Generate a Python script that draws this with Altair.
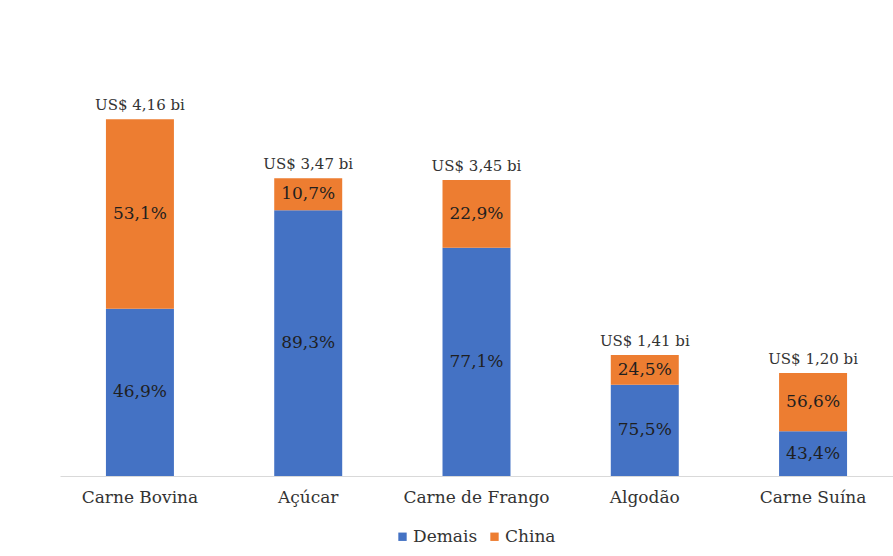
import altair as alt
import pandas as pd

# Exports by product: total value (US$ billions) and share going to China vs. other destinations
categories = ["Carne Bovina", "Açúcar", "Carne de Frango", "Algodão", "Carne Suína"]
totals = [4.16, 3.47, 3.45, 1.41, 1.20]
demais_pct = [46.9, 89.3, 77.1, 75.5, 43.4]
china_pct = [53.1, 10.7, 22.9, 24.5, 56.6]
series = ["Demais", "China"]
colors = ["#4472C4", "#ED7D31"]

FONT = "DejaVu Serif"


def pct_text(v):
    return f"{v:.1f}".replace(".", ",") + "%"


def money_text(v):
    return "US$ " + f"{v:.2f}".replace(".", ",") + " bi"


seg_rows = []
for cat, tot, d, c in zip(categories, totals, demais_pct, china_pct):
    d_val = tot * d / 100.0
    seg_rows.append({"produto": cat, "destino": "Demais", "y0": 0.0, "y1": d_val,
                     "mid": d_val / 2.0, "rotulo": pct_text(d)})
    seg_rows.append({"produto": cat, "destino": "China", "y0": d_val, "y1": tot,
                     "mid": (d_val + tot) / 2.0, "rotulo": pct_text(c)})
segments = pd.DataFrame(seg_rows)

tot_df = pd.DataFrame({"produto": categories, "total": totals,
                       "rotulo": [money_text(t) for t in totals]})

x_enc = alt.X(
    "produto:N",
    sort=categories,
    title=None,
    scale=alt.Scale(paddingInner=0.596, paddingOuter=0.273),
    axis=alt.Axis(labelAngle=0, ticks=False, domainColor="#d9d9d9", domainWidth=1.2,
                  labelFont=FONT, labelFontSize=17, labelColor="#333333",
                  labelPadding=13, grid=False),
)
y_scale = alt.Scale(domain=[0, 4.5], nice=False)

bars = alt.Chart(segments).mark_bar().encode(
    x=x_enc,
    y=alt.Y("y0:Q", scale=y_scale, axis=None),
    y2=alt.Y2("y1:Q"),
    color=alt.Color(
        "destino:N",
        scale=alt.Scale(domain=series, range=colors),
        sort=series,
        legend=alt.Legend(title=None, orient="none", direction="horizontal",
                          legendX=334, legendY=438, symbolType="square",
                          symbolSize=70, symbolStrokeWidth=0,
                          labelFont=FONT, labelFontSize=17, labelColor="#333333",
                          columnPadding=8, labelOffset=2),
    ),
)

pct_labels = alt.Chart(segments).mark_text(
    font=FONT, fontSize=17, color="#1f1f1f", baseline="middle"
).encode(
    x=alt.X("produto:N", sort=categories),
    y=alt.Y("mid:Q", scale=y_scale),
    text="rotulo:N",
)

total_labels = alt.Chart(tot_df).mark_text(
    font=FONT, fontSize=15, color="#333333", baseline="bottom", dy=-6
).encode(
    x=alt.X("produto:N", sort=categories),
    y=alt.Y("total:Q", scale=y_scale),
    text="rotulo:N",
)

chart = alt.layer(bars, pct_labels, total_labels).properties(
    width=833,
    height=386,
    autosize=alt.AutoSizeParams(type="none"),
    padding={"left": 60, "top": 90, "right": 0, "bottom": 80},
    background="white",
).configure_view(stroke=None)

chart.save("out.html", embed_options={"renderer": "svg", "actions": False})
